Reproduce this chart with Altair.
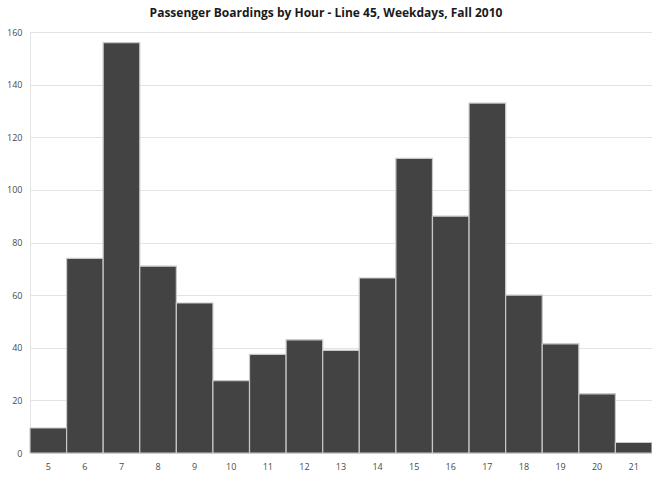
import altair as alt
import pandas as pd

hours = [5, 6, 7, 8, 9, 10, 11, 12, 13, 14, 15, 16, 17, 18, 19, 20, 21]
boardings = [9.5, 74, 156, 71, 57, 27.5, 37.5, 43, 39, 66.5, 112, 90, 133, 60, 41.5, 22.5, 4]

df = pd.DataFrame({"hour": hours, "boardings": boardings})

chart = (
    alt.Chart(df)
    .mark_bar(color="#434343", stroke="#c8c8c8", strokeWidth=1.2)
    .encode(
        x=alt.X(
            "hour:O",
            scale=alt.Scale(paddingInner=0, paddingOuter=0),
            axis=alt.Axis(
                title=None,
                labelAngle=0,
                ticks=False,
                domain=True,
                domainColor="#d9d9d9",
                labelPadding=9,
                labelFont="Open Sans",
                labelFontSize=9,
                labelColor="#4a4a4a",
            ),
        ),
        y=alt.Y(
            "boardings:Q",
            scale=alt.Scale(domain=[0, 160], nice=False),
            axis=alt.Axis(
                title=None,
                values=[0, 20, 40, 60, 80, 100, 120, 140, 160],
                ticks=False,
                domain=True,
                domainColor="#e6e6e6",
                gridColor="#e3e3e3",
                gridWidth=1.2,
                labelPadding=8,
                labelFont="Open Sans",
                labelFontSize=9,
                labelColor="#4a4a4a",
            ),
        ),
    )
    .properties(
        width=622,
        height=421,
        title=alt.TitleParams(
            "Passenger Boardings by Hour - Line 45, Weekdays, Fall 2010",
            font="Open Sans",
            fontSize=12,
            fontWeight="bold",
            color="#1a1a1a",
            anchor="middle",
            dx=-15,
            offset=8,
        ),
        autosize=alt.AutoSizeParams(type="none"),
        padding={"left": 30, "top": 32, "right": 0, "bottom": 26},
    )
    .configure_view(stroke=None)
    .configure(background="white")
)

chart.save("out.html", embed_options={"renderer": "svg", "actions": False})
